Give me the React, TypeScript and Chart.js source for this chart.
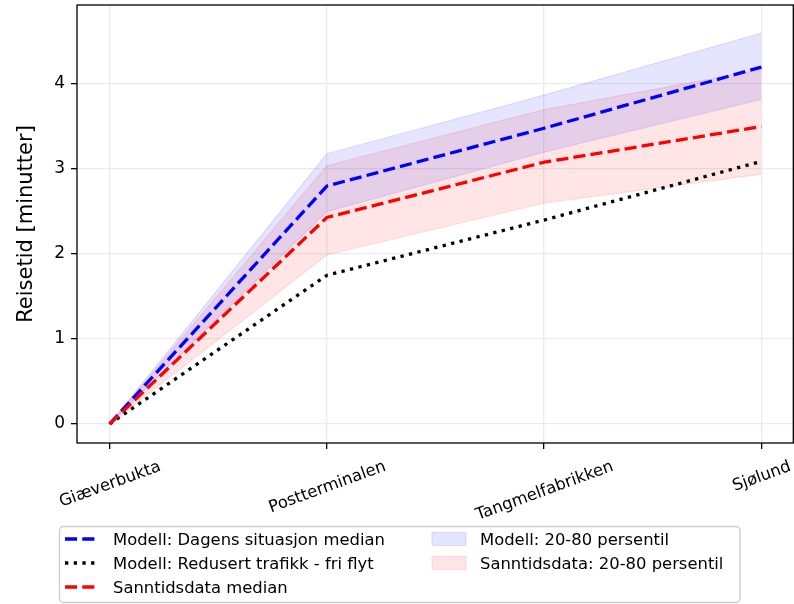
import { useEffect, useRef } from "react";
import { Chart, registerables } from "chart.js";

Chart.register(...registerables);

// Stops along the route (x axis)
const stops = ["Giæverbukta", "Postterminalen", "Tangmelfabrikken", "Sjølund"];

// Travel time in minutes from the first stop
const modelMedian = [0, 2.8, 3.48, 4.2];
const freeFlow = [0, 1.75, 2.4, 3.09];
const realtimeMedian = [0, 2.43, 3.08, 3.5];

// 20th / 80th percentile bands
const modelP20 = [0, 2.5, 3.2, 3.82];
const modelP80 = [0, 3.18, 3.87, 4.6];
const realtimeP20 = [0, 1.99, 2.6, 2.94];
const realtimeP80 = [0, 3.04, 3.7, 4.17];

const yTicks = [0, 1, 2, 3, 4];

const FONT = '"DejaVu Sans", "Liberation Sans", sans-serif';
const FS = 16.4;
const LW = 3.3;
const DASHED = [12.1, 5.2];
const DOTTED = [3.3, 5.4];

const BLUE = "#0000ff";
const RED = "#ff0000";
const BLUE_FILL = "rgba(0,0,255,0.1)";
const RED_FILL = "rgba(255,0,0,0.1)";

const toPoints = (vals: number[]) => vals.map((y, i) => ({ x: i, y }));

const lineLegend = [
  { label: "Modell: Dagens situasjon median", color: BLUE, dash: DASHED },
  { label: "Modell: Redusert trafikk - fri flyt", color: "#000000", dash: DOTTED },
  { label: "Sanntidsdata median", color: RED, dash: DASHED },
];
const bandLegend = [
  { label: "Modell: 20-80 persentil", color: BLUE_FILL },
  { label: "Sanntidsdata: 20-80 persentil", color: RED_FILL },
];

const decorations = {
  id: "decorations",
  afterDraw(chart: any) {
    const { ctx, chartArea: a, scales } = chart;
    ctx.save();

    // axes frame
    ctx.strokeStyle = "#000";
    ctx.lineWidth = 1.3;
    ctx.setLineDash([]);
    ctx.strokeRect(a.left, a.top, a.right - 0.7 - a.left, a.bottom - a.top);

    // rotated category labels, centred under their ticks
    ctx.font = `${FS}px ${FONT}`;
    ctx.fillStyle = "#000";
    const ang = (20 * Math.PI) / 180;
    stops.forEach((name, i) => {
      const x = scales.x.getPixelForValue(i);
      const w = ctx.measureText(name).width;
      const h = FS * 1.164;
      const H = w * Math.sin(ang) + h * Math.cos(ang);
      const cy = a.bottom + 13 + H / 2;
      ctx.save();
      ctx.translate(x, cy);
      ctx.rotate(-ang);
      ctx.textAlign = "center";
      ctx.textBaseline = "alphabetic";
      ctx.fillText(name, 0, 0.346 * FS);
      ctx.restore();
    });

    // y axis title
    ctx.save();
    ctx.font = `21px ${FONT}`;
    ctx.translate(32, (a.top + a.bottom) / 2);
    ctx.rotate(-Math.PI / 2);
    ctx.textAlign = "center";
    ctx.textBaseline = "alphabetic";
    ctx.fillText("Reisetid [minutter]", 0, 0);
    ctx.restore();

    // legend box
    const bx = 59.5, by = 526.5, bw = 680.5, bh = 76;
    ctx.beginPath();
    ctx.roundRect(bx, by, bw, bh, 4);
    ctx.fillStyle = "rgba(255,255,255,0.8)";
    ctx.fill();
    ctx.strokeStyle = "#cccccc";
    ctx.lineWidth = 1.3;
    ctx.stroke();

    const rows = [539, 563, 587];
    ctx.font = `${FS}px ${FONT}`;
    ctx.textAlign = "left";
    ctx.textBaseline = "alphabetic";

    lineLegend.forEach((item, i) => {
      const y = rows[i];
      ctx.beginPath();
      ctx.strokeStyle = item.color;
      ctx.lineWidth = LW;
      ctx.lineCap = "butt";
      ctx.setLineDash(item.dash);
      ctx.moveTo(65, y);
      ctx.lineTo(98, y);
      ctx.stroke();
      ctx.setLineDash([]);
      ctx.fillStyle = "#000";
      ctx.fillText(item.label, 113, y + 0.36 * FS);
    });

    bandLegend.forEach((item, i) => {
      const y = rows[i];
      ctx.fillStyle = item.color;
      ctx.fillRect(432, y - 6.5, 34, 13);
      ctx.strokeStyle = item.color;
      ctx.lineWidth = 1.3;
      ctx.strokeRect(432, y - 6.5, 34, 13);
      ctx.fillStyle = "#000";
      ctx.fillText(item.label, 480, y + 0.36 * FS);
    });

    ctx.restore();
  },
};

export default function App() {
  const canvasRef = useRef<HTMLCanvasElement | null>(null);

  useEffect(() => {
    document.body.style.margin = "0";
    const canvas = canvasRef.current;
    if (!canvas) return;

    const medianLine = (label: string, vals: number[], color: string, dash: number[], order: number) => ({
      label,
      data: toPoints(vals),
      borderColor: color,
      borderWidth: LW,
      borderDash: dash,
      borderCapStyle: "butt" as const,
      borderJoinStyle: "round" as const,
      pointRadius: 0,
      fill: false,
      tension: 0,
      order,
    });

    const bandEdge = (label: string, vals: number[], color: string, fill: any) => ({
      label,
      data: toPoints(vals),
      borderColor: color,
      backgroundColor: color,
      borderWidth: 1.3,
      pointRadius: 0,
      fill,
      tension: 0,
      order: 10,
    });

    const noPad = (s: any) => {
      s.paddingTop = 0;
      s.paddingBottom = 0;
      s.paddingLeft = 0;
      s.paddingRight = 0;
    };

    const chart = new Chart(canvas, {
      type: "line",
      data: {
        datasets: [
          medianLine(lineLegend[0].label, modelMedian, BLUE, DASHED, 3),
          medianLine(lineLegend[1].label, freeFlow, "#000000", DOTTED, 2),
          medianLine(lineLegend[2].label, realtimeMedian, RED, DASHED, 1),
          bandEdge("Modell P20", modelP20, BLUE_FILL, false),
          bandEdge(bandLegend[0].label, modelP80, BLUE_FILL, 3),
          bandEdge("Sanntidsdata P20", realtimeP20, RED_FILL, false),
          bandEdge(bandLegend[1].label, realtimeP80, RED_FILL, 5),
        ],
      },
      options: {
        responsive: false,
        animation: false,
        devicePixelRatio: 1,
        layout: { padding: { left: 0, right: 0, top: 5, bottom: 0 } },
        plugins: {
          legend: { display: false },
          tooltip: { enabled: false },
        },
        scales: {
          x: {
            type: "linear",
            min: -0.15,
            max: 3.15,
            afterBuildTicks: (s: any) => {
              s.ticks = stops.map((_, i) => ({ value: i }));
            },
            afterFit: (s: any) => {
              s.height = 161;
              noPad(s);
            },
            ticks: { display: false },
            grid: {
              color: "#ebebeb",
              lineWidth: 1.3,
              tickColor: "#000",
              tickLength: 6,
              tickWidth: 1.3,
              drawTicks: true,
            },
            border: { display: false },
          },
          y: {
            type: "linear",
            min: -0.2235,
            max: 4.93,
            afterBuildTicks: (s: any) => {
              s.ticks = yTicks.map((v) => ({ value: v }));
            },
            afterFit: (s: any) => {
              s.width = 77;
              noPad(s);
            },
            ticks: {
              color: "#000",
              font: { family: FONT, size: 17 },
              padding: 6,
              callback: (v: any) => String(v),
            },
            grid: {
              color: "#ebebeb",
              lineWidth: 1.3,
              tickColor: "#000",
              tickLength: 6,
              tickWidth: 1.3,
              drawTicks: true,
            },
            border: { display: false },
          },
        },
      },
      plugins: [decorations],
    });

    return () => chart.destroy();
  }, []);

  return (
    <div style={{ width: 794, height: 604, background: "#fff" }}>
      <canvas ref={canvasRef} width={794} height={604} />
    </div>
  );
}
